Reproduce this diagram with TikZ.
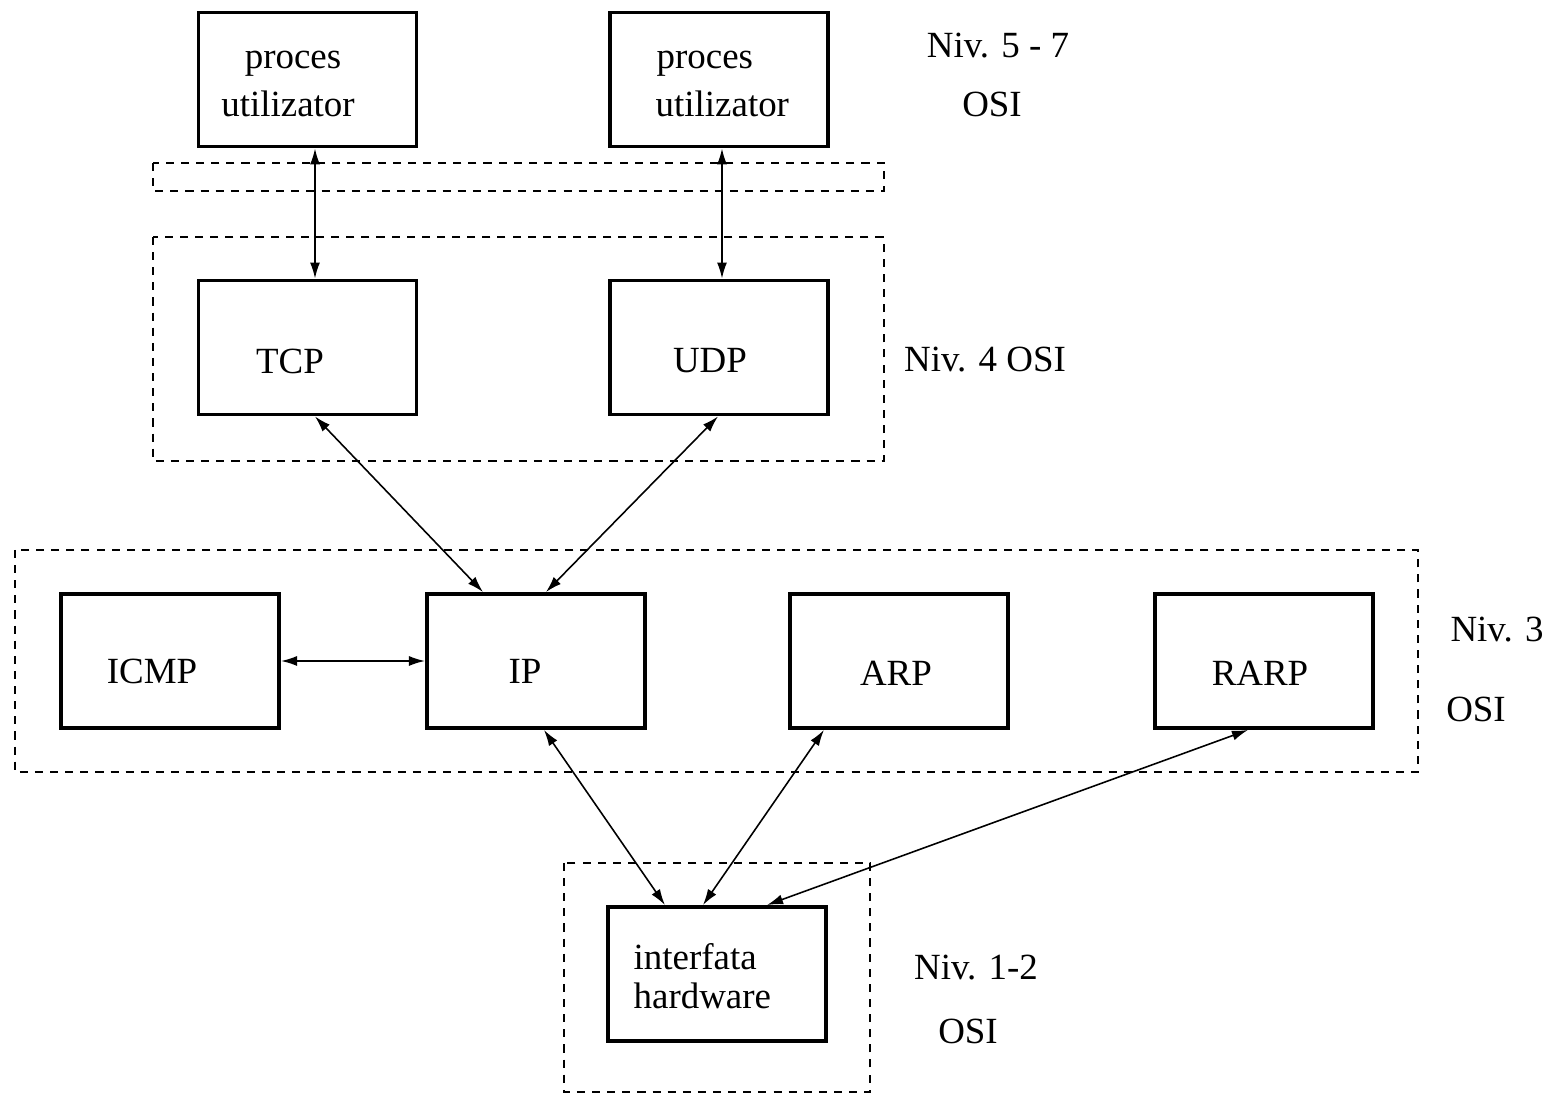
\documentclass[tikz,border=0pt]{standalone}
\usepackage{fontspec}
\setmainfont{Liberation Serif}
\usetikzlibrary{arrows.meta}
\begin{document}
\begin{tikzpicture}[x=0.01cm,y=-0.01cm,
  box/.style={draw,line width=1.1pt,minimum width=2.18cm,minimum height=1.34cm,inner sep=0pt},
  grp/.style={draw,dash pattern=on 2.3pt off 2pt,line width=0.55pt},
  txt/.style={font=\fontsize{10.5}{12.6}\selectfont,inner sep=0pt},
  conn/.style={line width=0.45pt,{Latex[length=1.6mm,width=1mm]}-{Latex[length=1.6mm,width=1mm]}}]
\useasboundingbox (0,0) rectangle (1556,1095);
% dashed groups
\draw[grp] (153,163) rectangle (884,191);
\draw[grp] (153,237) rectangle (884,461);
\draw[grp] (15,550) rectangle (1418,772);
\draw[grp] (564,863) rectangle (870,1092);
% boxes
\node[box] (p1) at (307.5,79.5) {};
\node[box] (p2) at (719,79.5) {};
\node[box] (tcp) at (307.5,347.5) {};
\node[box] (udp) at (719,347.5) {};
\node[box] (icmp) at (170,661) {};
\node[box] (ip) at (536,661) {};
\node[box] (arp) at (899,661) {};
\node[box] (rarp) at (1264,661) {};
\node[box] (hw) at (717,974) {};
% box texts
\node[txt] (p1a) at (293,64) {proces};
\node[txt] (p1b) at (288,104) {utilizator};
\node[txt,anchor=west] (p2a) at (656,64) {proces};
\node[txt,anchor=west] (p2b) at (655,104) {utilizator};
\node[txt] (tcpt) at (290,361) {TCP};
\node[txt] (udpt) at (710,361) {UDP};
\node[txt] (icmpt) at (152,671) {ICMP};
\node[txt] (ipt) at (525,671) {IP};
\node[txt] (arpt) at (896,673) {ARP};
\node[txt] (rarpt) at (1260,673) {RARP};
\node[txt,anchor=west] (hwa) at (633,957) {interfata};
\node[txt,anchor=west] (hwb) at (633,996) {hardware};
% level labels
\node[txt] (l1) at (998,46) {Niv. 5 - 7};
\node[txt] (l1b) at (992,104) {OSI};
\node[txt] (l2) at (985,360) {Niv. 4 OSI};
\node[txt] (l3) at (1497,630) {Niv. 3};
\node[txt] (l3b) at (1476,709) {OSI};
\node[txt] (l4) at (976,968) {Niv. 1-2};
\node[txt] (l4b) at (968,1031) {OSI};
% connectors
\draw[conn] ([xshift=0.075cm]p1.south) -- ([xshift=0.075cm]tcp.north);
\draw[conn] ([xshift=0.03cm]p2.south) -- ([xshift=0.03cm]udp.north);
\draw[conn] ([xshift=0.075cm]tcp.south) -- ([xshift=-0.53cm]ip.north);
\draw[conn] ([xshift=-0.01cm]udp.south) -- ([xshift=0.1cm]ip.north);
\draw[conn] (icmp.east) -- (ip.west);
\draw[conn] ([xshift=0.08cm]ip.south) -- ([xshift=-0.52cm]hw.north);
\draw[conn] ([xshift=-0.75cm]arp.south) -- ([xshift=-0.14cm]hw.north);
\draw[conn] ([xshift=-0.16cm]rarp.south) -- ([xshift=0.5cm]hw.north);
\end{tikzpicture}
\end{document}
